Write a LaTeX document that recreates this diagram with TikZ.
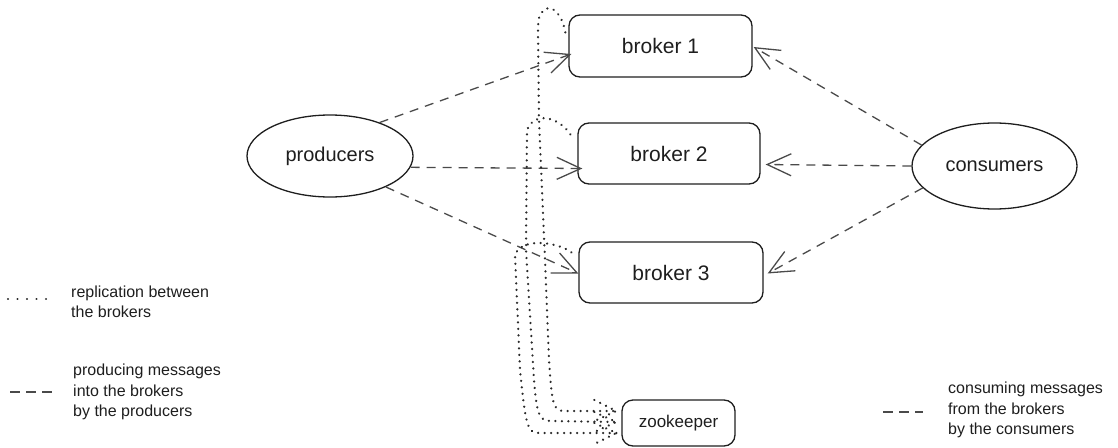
\documentclass[tikz,border=0pt]{standalone}
\usepackage{fontspec}
\setmainfont{Liberation Sans}
\usetikzlibrary{arrows.meta,calc,shapes.geometric}

\definecolor{inkc}{HTML}{1E1E1E}
\definecolor{dashc}{HTML}{4A4A4A}
\definecolor{dotc}{HTML}{2A2A2A}

\begin{document}
\begin{tikzpicture}[x=1pt,y=-1pt,
  ink/.style={draw=inkc, line width=1.3pt},
  brokerbox/.style={ink, rounded corners=11pt, inner sep=0pt,
    font=\fontsize{21}{25}\selectfont, text=inkc},
  blob/.style={ink, ellipse, inner sep=0pt,
    font=\fontsize{20}{24}\selectfont, text=inkc},
  flow/.style={draw=dashc, line width=1.3pt, dash pattern=on 9pt off 7pt,
    -{Straight Barb[length=24pt,width=22pt,line width=1.3pt]}},
  rep/.style={draw=dotc, line width=2.5pt, line cap=round,
    dash pattern=on 0.01pt off 6.5pt},
  legendtext/.style={align=left, inner sep=0pt, text=inkc,
    font=\fontsize{16}{20.5}\selectfont},
  legenddash/.style={draw=dashc, line width=1.3pt, dash pattern=on 10pt off 6pt},
  legenddot/.style={draw=dotc, line width=2.3pt, line cap=round,
    dash pattern=on 0.01pt off 9.5pt}
]
\useasboundingbox (0,0) rectangle (1118,447);

% brokers, clients and coordinator
\node[brokerbox, minimum width=183pt, minimum height=62pt] (b1) at (660.5,46) {broker 1};
\node[brokerbox, minimum width=182pt, minimum height=61pt] (b2) at (669,153.5) {broker 2};
\node[brokerbox, minimum width=184pt, minimum height=61pt] (b3) at (671,272.5) {broker 3};
\node[brokerbox, minimum width=113pt, minimum height=46pt,
      font=\fontsize{17}{20}\selectfont] (zk) at (678.5,423) {zookeeper};
\node[blob, minimum width=166pt, minimum height=82pt] (prod) at (330,156) {producers};
\node[blob, minimum width=165pt, minimum height=86pt] (cons) at (994.5,166) {consumers};

% producing
\draw[flow] (prod.34) -- ($(b1.west)+(3,8)$);
\draw[flow] (prod.-8) -- ($(b2.west)+(5,15)$);
\draw[flow] (prod.-29) -- ($(b3.west)+(0,1)$);

% consuming
\draw[flow] (cons.164) -- ($(b1.east)+(1,1)$);
\draw[flow] (cons.180) -- ($(b2.east)+(5,11)$);
\draw[flow] (cons.197) -- ($(b3.east)+(4,1)$);

% replication towards the coordinator
\coordinate (e1) at ($(zk.west)+(-5,-12)$);
\coordinate (e2) at ($(zk.west)+(-5,-1)$);
\coordinate (e3) at ($(zk.west)+(-5,10)$);

\draw[rep] ($(b1.north west)+(-3,18)$) .. controls (562,14) and (552,4) .. (544,10)
  .. controls (539,14) and (538,20) .. (538,30)
  -- (539,120) -- (545,260) -- (549,360)
  .. controls (552,405) and (553,411) .. (565,411) -- (e1);
\draw[rep] ($(b2.north west)+(-7,12)$) .. controls (560,118) and (535,110) .. (527,130)
  -- (526,250) -- (534,380)
  .. controls (537,418) and (540,421) .. (552,421) -- (e2);
\draw[rep] ($(b3.north west)+(-7,11)$) .. controls (560,243) and (522,236) .. (515,255)
  -- (520,370)
  .. controls (526,430) and (528,433) .. (540,433) -- (e3);

\draw[rep] ($(e1)+(-22,-11)$) -- (e1) -- ($(e1)+(-22,10)$);
\draw[rep] ($(e2)+(-22,-10)$) -- (e2) -- ($(e2)+(-22,10)$);
\draw[rep] ($(e3)+(-22,-10)$) -- (e3) -- ($(e3)+(-22,11)$);

% legend
\coordinate (k1a) at (8,299);   \coordinate (k1b) at (48,299);
\coordinate (k2a) at (10,392);  \coordinate (k2b) at (52,392);
\coordinate (k3a) at (883,412); \coordinate (k3b) at (923,412);
\draw[legenddot] (k1a) -- (k1b);
\draw[legenddash] (k2a) -- (k2b);
\draw[legenddash] (k3a) -- (k3b);
\node[legendtext, anchor=west] (t1) at (71,302) {replication between\\the brokers};
\node[legendtext, anchor=west] (t2) at (73,392) {producing messages\\into the brokers\\by the producers};
\node[legendtext, anchor=west] (t3) at (948,410) {consuming messages\\from the brokers\\by the consumers};
\end{tikzpicture}
\end{document}
